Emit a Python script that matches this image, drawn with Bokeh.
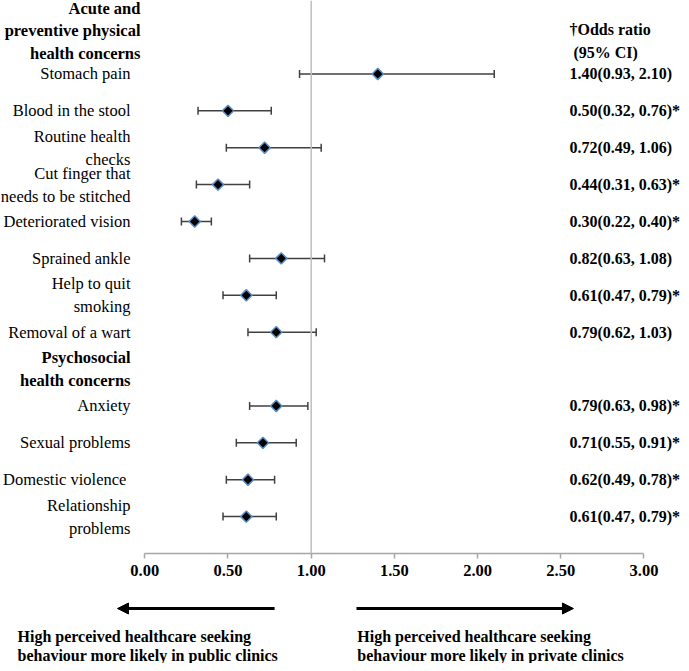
from bokeh.plotting import figure
from bokeh.models import (Range1d, LinearAxis, FixedTicker, Span, Arrow, NormalHead,
                          ColumnDataSource)
from bokeh.layouts import column
from bokeh.core.properties import value
from bokeh.embed import file_html
from bokeh.resources import INLINE
import numpy as np

# ---------------- data ----------------
categories = ["Stomach pain", "Blood in the stool", "Routine health\nchecks",
              "Cut finger that\nneeds to be stitched", "Deteriorated vision",
              "Sprained ankle", "Help to quit\nsmoking", "Removal of a wart",
              "Anxiety", "Sexual problems", "Domestic  violence",
              "Relationship\nproblems"]
groups = ["physical"] * 8 + ["psychosocial"] * 4
group_titles = {"physical": "Acute and\npreventive physical\nhealth concerns",
                "psychosocial": "Psychosocial\nhealth concerns"}
odds_ratio = [1.40, 0.50, 0.72, 0.44, 0.30, 0.82, 0.61, 0.79, 0.79, 0.71, 0.62, 0.61]
ci_lower = [0.93, 0.32, 0.49, 0.31, 0.22, 0.63, 0.47, 0.62, 0.63, 0.55, 0.49, 0.47]
ci_upper = [2.10, 0.76, 1.06, 0.63, 0.40, 1.08, 0.79, 1.03, 0.98, 0.91, 0.78, 0.79]
tick_values = [0.0, 0.5, 1.0, 1.5, 2.0, 2.5, 3.0]
tick_labels = ["0.00", "0.50", "1.00", "1.50", "2.00", "2.50", "3.00"]
left_note = "High perceived healthcare seeking\nbehaviour more likely in public clinics"
right_note = "High perceived healthcare seeking\nbehaviour more likely in private clinics"

# ---------------- row positions ----------------
rows = []
header_rows = {}
pos = 0
prev = None
for g in groups:
    if prev is not None and g != prev:
        header_rows[g] = pos
        pos += 1
    rows.append(pos)
    pos += 1
    prev = g
header_rows.setdefault("physical", -1.166)

or_text = []
for o, lo, hi in zip(odds_ratio, ci_lower, ci_upper):
    t = f"{o:.2f}({lo:.2f}, {hi:.2f})"
    if hi < 1 or lo > 1:
        t += "*"
    or_text.append(t)

src = ColumnDataSource(dict(y=rows, odds=odds_ratio, lo=ci_lower, hi=ci_upper,
                            cat=categories, ortxt=or_text))

FONT = value("Liberation Serif")
FS = "16.5px"
XR = (-0.8672, 3.2254)

p = figure(width=681, height=593, x_range=Range1d(*XR), y_range=Range1d(13, -1.991),
           output_backend="svg", toolbar_location=None,
           x_axis_location=None, y_axis_location=None,
           min_border_left=0, min_border_right=0, min_border_top=0, min_border_bottom=40)
p.outline_line_color = None
p.xgrid.visible = False
p.ygrid.visible = False

axis = LinearAxis(ticker=FixedTicker(ticks=tick_values),
                  major_label_overrides={v: l for v, l in zip(tick_values, tick_labels)},
                  bounds=(0, 3),
                  axis_line_color="#a6a6a6", axis_line_width=1.5,
                  major_tick_line_color="#a6a6a6", major_tick_line_width=1.5,
                  major_tick_in=0, major_tick_out=5, minor_tick_line_color=None,
                  major_label_text_font="Liberation Serif",
                  major_label_text_font_style="bold",
                  major_label_text_font_size=FS,
                  major_label_text_color="black",
                  major_label_standoff=6)
p.add_layout(axis, "below")

p.add_layout(Span(location=1.0, dimension="height", line_color="#bfbfbf", line_width=1.5))

# CI bars
p.segment(x0="lo", x1="hi", y0="y", y1="y", source=src, line_color="#404040", line_width=1.5)
p.scatter(x="lo", y="y", source=src, marker="dash", angle=np.pi / 2, size=8,
          line_color="#404040", line_width=1.5)
p.scatter(x="hi", y="y", source=src, marker="dash", angle=np.pi / 2, size=8,
          line_color="#404040", line_width=1.5)
# point estimates
p.scatter(x="odds", y="y", source=src, marker="square", angle=np.pi / 4, size=8,
          fill_color="black", line_color="#5b8fc7", line_width=1.5)

# category labels
p.text(x=-0.086, y="y", text="cat", source=src, text_align="right", text_baseline="middle",
       text_font=FONT, text_font_size=FS, text_color="black", text_line_height=1.2)
# group headers
p.text(x=[-0.026, -0.086], y=[header_rows["physical"], header_rows["psychosocial"]],
       text=[group_titles["physical"], group_titles["psychosocial"]],
       text_align="right", text_baseline="middle", text_font=FONT, text_font_size=FS,
       text_font_style="bold", text_color="black", text_line_height=1.2)
# odds ratio column
p.text(x=2.552, y="y", text="ortxt", source=src, text_align="left", text_baseline="middle",
       text_font=FONT, text_font_size="16px", text_font_style="bold", text_color="black")
p.text(x=[2.552, 2.576], y=[-1.193, -0.569], text=["\u2020Odds ratio", "(95% CI)"],
       text_align="left", text_baseline="middle", text_font=FONT, text_font_size="16px",
       text_font_style="bold", text_color="black")

# ---------------- bottom panel ----------------
p2 = figure(width=681, height=70, x_range=p.x_range, y_range=Range1d(70, 0),
            output_backend="svg", toolbar_location=None,
            x_axis_location=None, y_axis_location=None,
            min_border_left=0, min_border_right=0, min_border_top=0, min_border_bottom=0)
p2.outline_line_color = None
p2.xgrid.visible = False
p2.ygrid.visible = False

p2.add_layout(Arrow(end=NormalHead(size=11, fill_color="black", line_color="black"),
                    x_start=0.78, y_start=15, x_end=-0.164, y_end=15,
                    line_width=3, line_color="black"))
p2.add_layout(Arrow(end=NormalHead(size=11, fill_color="black", line_color="black"),
                    x_start=1.272, y_start=15, x_end=2.576, y_end=15,
                    line_width=3, line_color="black"))
p2.text(x=[-0.765, 1.277], y=[52.5, 52.5], text=[left_note, right_note],
        text_align="left", text_baseline="middle", text_font=FONT, text_font_size="16px",
        text_font_style="bold", text_color="black", text_line_height=1.08)

layout = column(p, p2, spacing=0)
open("out.html", "w").write(file_html(layout, INLINE))
